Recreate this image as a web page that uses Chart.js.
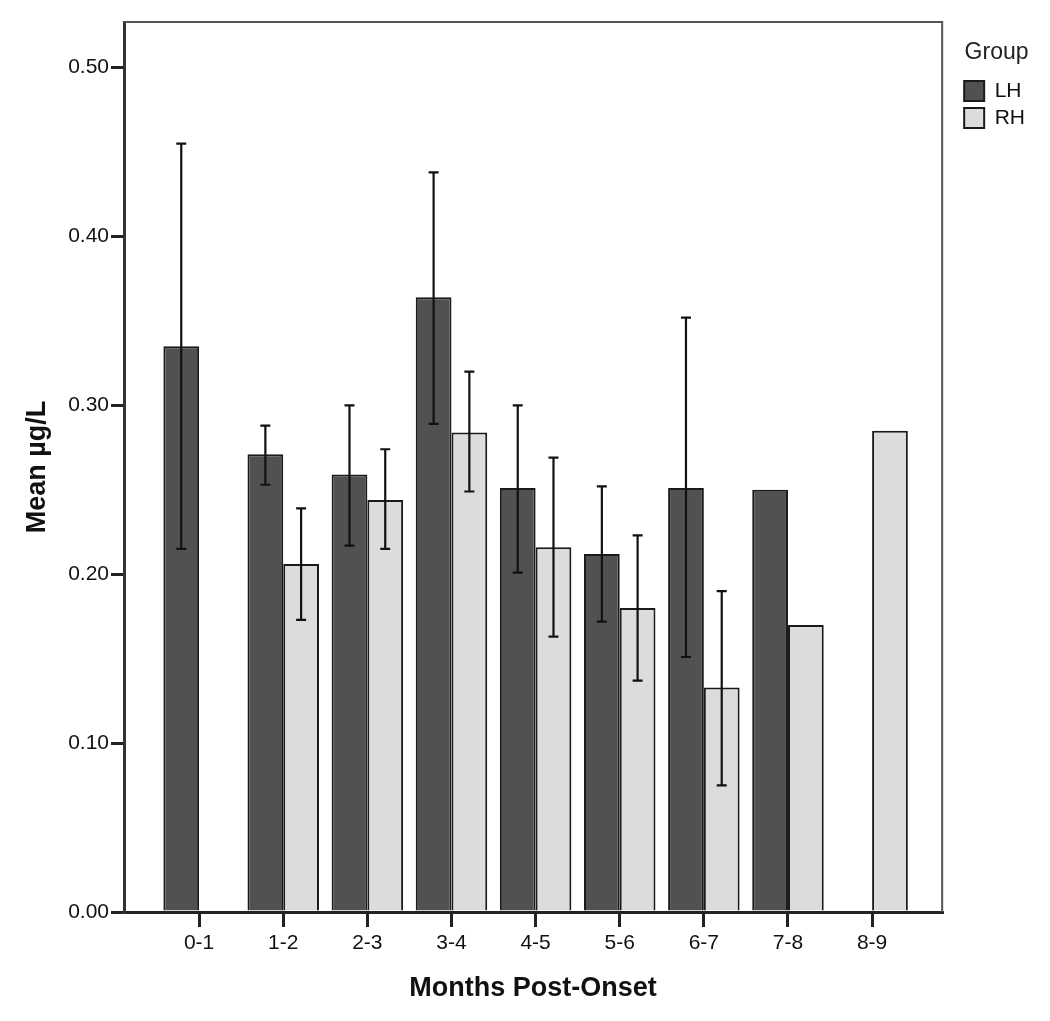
<!DOCTYPE html>
<html>
<head>
<meta charset="utf-8">
<script src="https://cdn.jsdelivr.net/npm/chart.js@4.4.0/dist/chart.umd.min.js"></script>
<style>
	body { margin: 0; background: #fff; }
	#chartBox { width: 1050px; height: 1021px; }
</style>
</head>
<body>
<div id="chartBox"><canvas id="meanChart" width="1050" height="1021"></canvas></div>
<script>
// Categories along the x axis
const categories = ["0-1", "1-2", "2-3", "3-4", "4-5", "5-6", "6-7", "7-8", "8-9"];

// LH group: mean and error bar ends
const lhMean = [0.335, 0.271, 0.259, 0.364, 0.251, 0.212, 0.251, 0.250, null];
const lhUpper = [0.455, 0.288, 0.300, 0.438, 0.300, 0.252, 0.352, null, null];
const lhLower = [0.215, 0.253, 0.217, 0.289, 0.201, 0.172, 0.151, null, null];

// RH group: mean and error bar ends
const rhMean = [null, 0.206, 0.244, 0.284, 0.216, 0.180, 0.133, 0.170, 0.285];
const rhUpper = [null, 0.239, 0.274, 0.320, 0.269, 0.223, 0.190, null, null];
const rhLower = [null, 0.173, 0.215, 0.249, 0.163, 0.137, 0.075, null, null];

const yTicks = [0, 0.1, 0.2, 0.3, 0.4, 0.5];

const errorBars = [
	{ upper: lhUpper, lower: lhLower },
	{ upper: rhUpper, lower: rhLower },
];

// Turn a list of means into {x, y} points for the linear x axis
function toPoints(arr) {
	return arr.map((v, i) => ({ x: i, y: v }));
}

// Draws the error bars on top of the bars
const errorBarPlugin = {
	id: "errorBars",
	afterDatasetsDraw(chart) {
		const ctx = chart.ctx;
		const yScale = chart.scales.y;
		ctx.save();
		ctx.strokeStyle = "#111";
		ctx.lineWidth = 2.2;
		errorBars.forEach((eb, d) => {
			const meta = chart.getDatasetMeta(d);
			meta.data.forEach((bar, i) => {
				if (eb.upper[i] === null || eb.lower[i] === null) return;
				const x = bar.x;
				const yTop = yScale.getPixelForValue(eb.upper[i]);
				const yBot = yScale.getPixelForValue(eb.lower[i]);
				ctx.beginPath();
				ctx.moveTo(x, yTop);
				ctx.lineTo(x, yBot);
				ctx.moveTo(x - 5, yTop);
				ctx.lineTo(x + 5, yTop);
				ctx.moveTo(x - 5, yBot);
				ctx.lineTo(x + 5, yBot);
				ctx.stroke();
			});
		});
		ctx.restore();
	},
};

// Top and right edges of the plot frame
const framePlugin = {
	id: "frame",
	afterDraw(chart) {
		const { ctx, chartArea } = chart;
		ctx.save();
		ctx.strokeStyle = "#555";
		ctx.lineWidth = 2;
		ctx.beginPath();
		ctx.moveTo(chartArea.left, chartArea.top);
		ctx.lineTo(chartArea.right, chartArea.top);
		ctx.lineTo(chartArea.right, chartArea.bottom);
		ctx.stroke();
		ctx.restore();
	},
};

// Push the legend a bit away from the plot frame
const legendShift = {
	id: "legendShift",
	afterLayout(chart) {
		if (!chart.legend) return;
		chart.legend.left += 16;
		chart.legend.right += 16;
	},
};

const meanChart = new Chart(document.getElementById("meanChart").getContext("2d"), {
	type: "bar",
	data: {
		datasets: [
			{
				label: "LH",
				data: toPoints(lhMean),
				backgroundColor: "#515151",
				borderColor: "#1a1a1a",
				borderWidth: 2,
				categoryPercentage: 0.85,
				barPercentage: 1.0,
			},
			{
				label: "RH",
				data: toPoints(rhMean),
				backgroundColor: "#dcdcdc",
				borderColor: "#1a1a1a",
				borderWidth: 2,
				categoryPercentage: 0.85,
				barPercentage: 1.0,
			},
		],
	},
	plugins: [errorBarPlugin, framePlugin, legendShift],
	options: {
		responsive: false,
		animation: false,
		layout: {
			padding: { top: 22, left: 0, right: 31, bottom: 0 },
		},
		scales: {
			x: {
				type: "linear",
				offset: false,
				min: -0.893,
				max: 8.833,
				afterFit: (scale) => {
					scale.height = 109;
				},
				border: { color: "#222", width: 3 },
				grid: {
					offset: false,
					drawOnChartArea: false,
					drawTicks: true,
					tickLength: 15,
					color: "#222",
					lineWidth: 3,
				},
				ticks: {
					stepSize: 1,
					includeBounds: false,
					autoSkip: false,
					maxRotation: 0,
					padding: 4,
					color: "#111",
					font: { family: "'Liberation Sans', Arial, sans-serif", size: 21 },
					callback: (value) => (Number.isInteger(value) && categories[value] !== undefined ? categories[value] : ""),
				},
				title: {
					display: true,
					text: "Months Post-Onset",
					color: "#111",
					font: { family: "'Liberation Sans', Arial, sans-serif", size: 27, weight: "bold" },
					padding: { top: 0, bottom: 16 },
				},
			},
			y: {
				min: 0,
				max: 0.527,
				afterFit: (scale) => {
					scale.width = 124;
				},
				afterBuildTicks: (scale) => {
					scale.ticks = yTicks.map((v) => ({ value: v }));
				},
				border: { color: "#333", width: 3 },
				grid: {
					drawOnChartArea: false,
					drawTicks: true,
					tickLength: 13,
					color: "#222",
					lineWidth: 3,
				},
				ticks: {
					padding: 2,
					color: "#111",
					font: { family: "'Liberation Sans', Arial, sans-serif", size: 21 },
					callback: (value) => value.toFixed(2),
				},
				title: {
					display: true,
					text: "Mean µg/L",
					color: "#111",
					font: { family: "'Liberation Sans', Arial, sans-serif", size: 27, weight: "bold" },
					padding: { top: 21, bottom: 0 },
				},
			},
		},
		plugins: {
			legend: {
				position: "right",
				align: "start",
				title: {
					display: true,
					text: "Group",
					color: "#222",
					font: { family: "'Liberation Sans', Arial, sans-serif", size: 23 },
					padding: { top: 19, bottom: 6 },
				},
				labels: {
					boxWidth: 20,
					boxHeight: 20,
					padding: 6,
					color: "#111",
					font: { family: "'Liberation Sans', Arial, sans-serif", size: 21 },
				},
			},
			tooltip: { enabled: false },
		},
	},
});
</script>
</body>
</html>
